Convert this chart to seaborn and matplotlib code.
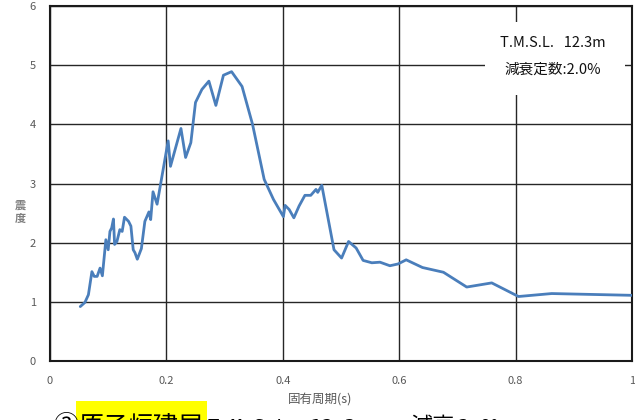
import matplotlib
matplotlib.use('Agg')
import matplotlib.pyplot as plt
import seaborn as sns
import pandas as pd
from matplotlib.patches import Rectangle

# データ (固有周期 vs 震度)
period = [0.052, 0.060, 0.066, 0.072, 0.076, 0.081, 0.086, 0.090, 0.096, 0.100,
          0.103, 0.106, 0.109, 0.111, 0.115, 0.120, 0.124, 0.128, 0.135, 0.139,
          0.143, 0.146, 0.150, 0.157, 0.163, 0.170, 0.173, 0.177, 0.184, 0.203,
          0.207, 0.225, 0.233, 0.242, 0.250, 0.261, 0.273, 0.285, 0.298, 0.312,
          0.330, 0.348, 0.368, 0.384, 0.401, 0.404, 0.411, 0.419, 0.428, 0.438,
          0.448, 0.457, 0.460, 0.467, 0.488, 0.501, 0.513, 0.526, 0.538, 0.553,
          0.567, 0.584, 0.598, 0.612, 0.640, 0.676, 0.716, 0.759, 0.805, 0.862,
          1.000]
intensity = [0.92, 0.99, 1.12, 1.51, 1.43, 1.43, 1.57, 1.44, 2.05, 1.88,
             2.19, 2.25, 2.40, 1.97, 2.02, 2.22, 2.19, 2.43, 2.36, 2.28,
             1.88, 1.83, 1.72, 1.90, 2.36, 2.52, 2.39, 2.86, 2.65, 3.72,
             3.29, 3.93, 3.44, 3.69, 4.37, 4.59, 4.73, 4.32, 4.83, 4.89,
             4.64, 4.00, 3.07, 2.73, 2.44, 2.63, 2.56, 2.42, 2.62, 2.80,
             2.80, 2.90, 2.85, 2.97, 1.88, 1.74, 2.02, 1.91, 1.70, 1.66,
             1.67, 1.61, 1.64, 1.71, 1.58, 1.50, 1.25, 1.32, 1.09, 1.14,
             1.11]
x_ticks = [0, 0.2, 0.4, 0.6, 0.8, 1.0]
x_tick_labels = ['0', '0.2', '0.4', '0.6', '0.8', '1']
y_ticks = [0, 1, 2, 3, 4, 5, 6]

df = pd.DataFrame({'period': period, 'intensity': intensity})

sns.set_style('white')
plt.rcParams['font.family'] = ['Noto Sans CJK JP', 'DejaVu Sans']

W, H = 635, 420
fig = plt.figure(figsize=(W / 100, H / 100), dpi=100)
ax = fig.add_axes([50 / W, 59 / H, 582 / W, 355 / H])

sns.lineplot(data=df, x='period', y='intensity', color='#4a7ebb', linewidth=2,
             ax=ax, zorder=3)

ax.set_xlim(0, 1)
ax.set_ylim(0, 6)
ax.set_xticks(x_ticks)
ax.set_xticklabels(x_tick_labels)
ax.set_yticks(y_ticks)
ax.set_axisbelow(True)
ax.grid(True, color='#262626', linewidth=1)
for s in ax.spines.values():
    s.set_color('#1a1a1a')
    s.set_linewidth(1.5)
ax.tick_params(axis='both', length=0, labelsize=8, labelcolor='#595959')
ax.tick_params(axis='x', pad=11)
ax.tick_params(axis='y', pad=10)
ax.set_xlabel('')
ax.set_ylabel('')

# 凡例の代わりの注記
ax.add_patch(Rectangle((0.747, 4.5), 0.241, 1.23, facecolor='white',
                       edgecolor='none', zorder=2))
ax.text(0.864, 5.37, 'T.M.S.L.   12.3m', ha='center', va='center',
        fontsize=10.5, color='#111111', zorder=4)
ax.text(0.864, 4.92, '減衰定数:2.0%', ha='center', va='center',
        fontsize=10.5, color='#111111', zorder=4)

# 軸ラベル
fig.text(20 / W, 1 - 212 / H, '震\n度', ha='center', va='center',
         fontsize=8, color='#7f7f7f', linespacing=1.0, fontweight='bold')
fig.text(320 / W, 1 - 399 / H, '固有周期(s)', ha='center', va='center',
         fontsize=9, color='#595959')

# 下のキャプション (切れている)
fig.patches.append(Rectangle((76 / W, 0), 131 / W, 19 / H, facecolor='#ffff00',
                             edgecolor='none', transform=fig.transFigure,
                             figure=fig))
base = (H - 433) / H
fig.text(53 / W, base, '③', fontsize=18, va='baseline', color='black')
fig.text(78 / W, base, '原子炉建屋', fontsize=18, va='baseline', color='black')
fig.text(208 / W, base, 'T.M.S.L. 12.3m', fontsize=13.6, va='baseline',
         color='black', family='DejaVu Sans Mono')
fig.text(410 / W, base, '減衰', fontsize=16, va='baseline', color='black')
fig.text(458 / W, base, '2.0%', fontsize=13.6, va='baseline', color='black',
         family='DejaVu Sans Mono')

fig.savefig('out.png', dpi=100)
